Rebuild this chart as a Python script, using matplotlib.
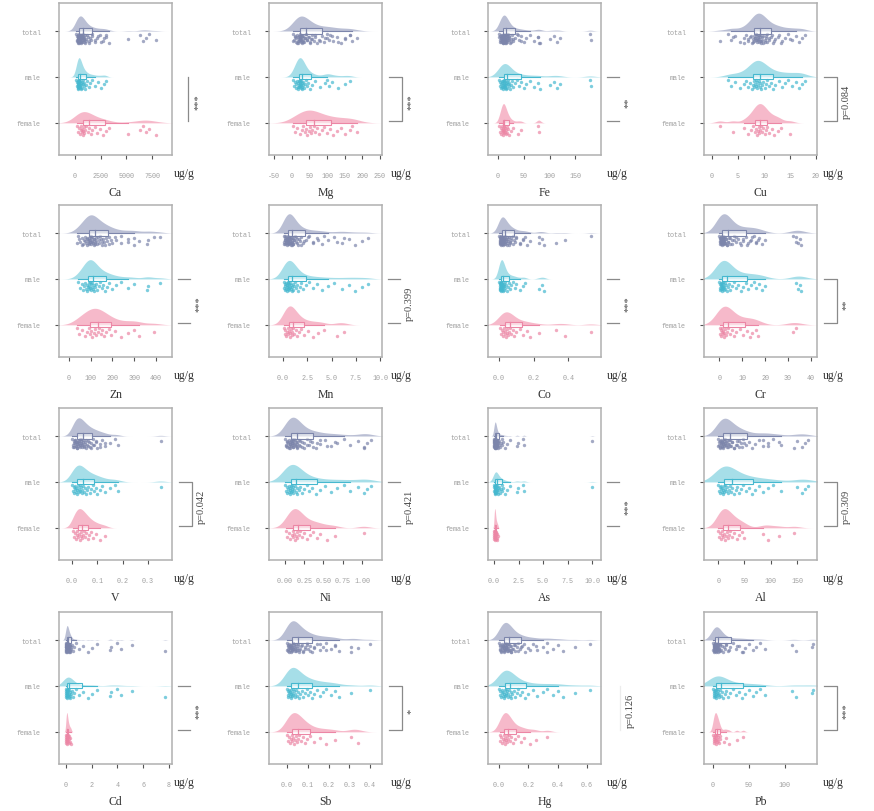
import numpy as np
import matplotlib.pyplot as plt

plt.rcParams['font.family'] = ['Liberation Serif', 'DejaVu Serif']

elements = ['Ca', 'Mg', 'Fe', 'Cu', 'Zn', 'Mn', 'Co', 'Cr',
            'V', 'Ni', 'As', 'Al', 'Cd', 'Sb', 'Hg', 'Pb']
groups = ['total', 'male', 'female']

ca_male = [120, 180, 220, 250, 270, 290, 300, 310, 320, 330, 340, 360, 380, 390, 400, 420, 440, 450,
           480, 510, 540, 580, 620, 660, 700, 750, 800, 860, 920, 1000, 1100, 1200, 1350, 1500,
           1700, 1900, 2200, 2500, 2800, 3000]
ca_female = [150, 250, 350, 450, 550, 620, 680, 720, 760, 800, 850, 900, 980, 1100, 1250, 1400,
             1550, 1700, 1900, 2100, 2400, 2700, 3000, 3300, 5200, 6300, 6600, 6900, 7200, 7900]
mg_male = [3, 6, 9, 11, 13, 15, 16, 17, 18, 19, 20, 21, 22, 22, 23, 24, 25, 26, 27, 28, 29, 30,
           31, 33, 35, 37, 40, 43, 47, 52, 58, 65, 80, 95, 100, 105, 115, 130, 150, 165]
mg_female = [2, 8, 15, 22, 28, 32, 36, 40, 44, 48, 52, 55, 58, 62, 66, 72, 78, 85, 92, 100, 108,
             118, 128, 140, 152, 165, 172, 185]
fe_male = [1, 3, 4, 5, 6, 7, 8, 8, 9, 9, 10, 10, 11, 11, 12, 12, 13, 13, 14, 14, 15, 15, 16, 17,
           18, 19, 20, 21, 22, 24, 26, 28, 30, 33, 36, 40, 45, 50, 55, 62, 70, 78, 82, 100, 108,
           115, 120, 178, 180]
fe_female = [2, 4, 5, 6, 7, 8, 9, 9, 10, 10, 11, 11, 12, 12, 13, 14, 15, 16, 17, 18, 20, 22, 25,
             30, 38, 45, 78, 80]
cu_male = [3.0, 3.6, 4.5, 5.4, 6.1, 6.6, 7.0, 7.3, 7.6, 7.8, 8.0, 8.1, 8.3, 8.4, 8.5, 8.6, 8.7,
           8.9, 9.0, 9.2, 9.3, 9.5, 9.7, 9.9, 10.1, 10.3, 10.6, 10.9, 11.3, 11.7, 12.2, 12.8,
           13.4, 14.0, 14.7, 15.4, 16.2, 16.8, 17.3, 17.8]
cu_female = [1.5, 4.0, 6.2, 7.0, 7.5, 7.9, 8.2, 8.4, 8.6, 8.8, 9.0, 9.1, 9.3, 9.5, 9.7, 9.9,
             10.1, 10.3, 10.6, 11.0, 11.5, 12.0, 12.6, 13.2, 15.0]
zn_male = [40, 50, 58, 64, 70, 74, 78, 82, 85, 88, 90, 92, 94, 96, 98, 100, 102, 104, 107, 110,
           113, 116, 120, 125, 130, 136, 142, 150, 158, 166, 175, 185, 200, 215, 240, 270, 300,
           360, 365, 420]
zn_female = [35, 48, 60, 72, 82, 90, 96, 102, 108, 114, 120, 126, 132, 138, 145, 152, 160, 170,
             182, 195, 210, 240, 270, 300, 320, 390]
mn_male = [0.05, 0.1, 0.15, 0.2, 0.25, 0.3, 0.33, 0.36, 0.4, 0.43, 0.46, 0.5, 0.53, 0.56, 0.6,
           0.63, 0.66, 0.7, 0.74, 0.78, 0.82, 0.87, 0.92, 0.98, 1.05, 1.12, 1.2, 1.3, 1.4, 1.55,
           1.7, 1.9, 2.1, 2.4, 2.7, 3.1, 3.5, 4.0, 4.6, 5.3, 6.1, 6.8, 7.4, 8.1, 8.8]
mn_female = [0.05, 0.15, 0.25, 0.35, 0.42, 0.5, 0.56, 0.62, 0.68, 0.74, 0.8, 0.87, 0.95, 1.05,
             1.15, 1.3, 1.45, 1.65, 1.9, 2.2, 2.6, 3.1, 3.6, 4.2, 5.6, 6.3]
co_male = [0.002, 0.003, 0.004, 0.005, 0.006, 0.007, 0.008, 0.009, 0.010, 0.010, 0.011, 0.012,
           0.012, 0.013, 0.014, 0.015, 0.016, 0.017, 0.018, 0.019, 0.020, 0.022, 0.024, 0.026,
           0.028, 0.030, 0.033, 0.036, 0.040, 0.045, 0.050, 0.056, 0.064, 0.072, 0.080, 0.090,
           0.10, 0.12, 0.14, 0.15, 0.23, 0.25, 0.26]
co_female = [0.005, 0.010, 0.015, 0.020, 0.024, 0.028, 0.032, 0.036, 0.040, 0.044, 0.048, 0.053,
             0.058, 0.064, 0.070, 0.078, 0.088, 0.10, 0.12, 0.14, 0.16, 0.18, 0.23, 0.33, 0.38,
             0.53]
cr_male = [0.1, 0.2, 0.4, 0.5, 0.6, 0.8, 0.9, 1.0, 1.1, 1.2, 1.3, 1.4, 1.5, 1.6, 1.7, 1.8, 2.0,
           2.2, 2.4, 2.7, 3.0, 3.4, 3.8, 4.3, 4.9, 5.6, 6.4, 7.3, 8.3, 9.4, 10.5, 11.6, 12.7,
           13.8, 15.0, 16.2, 17.5, 18.8, 19.8, 33.5, 34.2, 35.0, 35.8]
cr_female = [0.2, 0.5, 0.8, 1.0, 1.2, 1.4, 1.6, 1.8, 2.0, 2.3, 2.6, 3.0, 3.5, 4.0, 4.8, 5.6, 6.5,
             7.5, 9.0, 10.5, 12.0, 13.5, 14.5, 16.0, 17.0, 32.0, 33.5]
v_male = [0.002, 0.005, 0.008, 0.010, 0.012, 0.014, 0.016, 0.018, 0.020, 0.022, 0.024, 0.026,
          0.028, 0.030, 0.032, 0.035, 0.038, 0.041, 0.044, 0.048, 0.052, 0.056, 0.060, 0.065,
          0.070, 0.076, 0.082, 0.088, 0.095, 0.10, 0.11, 0.12, 0.13, 0.15, 0.17, 0.18, 0.35]
v_female = [0.003, 0.008, 0.012, 0.016, 0.019, 0.022, 0.025, 0.028, 0.031, 0.034, 0.037, 0.040,
            0.044, 0.048, 0.052, 0.057, 0.062, 0.068, 0.075, 0.085, 0.095, 0.11, 0.13]
ni_male = [0.005, 0.01, 0.02, 0.03, 0.04, 0.05, 0.055, 0.06, 0.065, 0.07, 0.075, 0.08, 0.085,
           0.09, 0.095, 0.10, 0.11, 0.12, 0.13, 0.14, 0.15, 0.16, 0.18, 0.20, 0.22, 0.25, 0.28,
           0.31, 0.35, 0.40, 0.45, 0.52, 0.60, 0.68, 0.76, 0.84, 0.95, 1.03, 1.07, 1.12]
ni_female = [0.01, 0.03, 0.05, 0.07, 0.09, 0.10, 0.11, 0.12, 0.13, 0.14, 0.15, 0.16, 0.18, 0.20,
             0.22, 0.25, 0.28, 0.32, 0.36, 0.42, 0.45, 0.55, 0.65, 1.02]
as_male = [0.01, 0.03, 0.05, 0.07, 0.08, 0.09, 0.10, 0.11, 0.12, 0.13, 0.14, 0.15, 0.17, 0.19,
           0.21, 0.23, 0.25, 0.28, 0.31, 0.35, 0.40, 0.45, 0.50, 0.56, 0.63, 0.70, 0.78, 0.86,
           0.95, 1.1, 1.3, 1.6, 2.3, 2.4, 3.0, 3.1, 10.0]
as_female = [0.01, 0.02, 0.03, 0.04, 0.05, 0.06, 0.07, 0.08, 0.09, 0.10, 0.11, 0.12, 0.13, 0.14,
             0.15, 0.17, 0.19, 0.21, 0.24, 0.27, 0.30, 0.35, 0.40]
al_male = [0.5, 1.5, 2.5, 3.5, 4.5, 5.5, 6.5, 7.5, 8.5, 9.5, 10.5, 11.5, 12.5, 13.5, 15, 16.5,
           18, 20, 22, 24, 27, 30, 33, 36, 40, 44, 48, 53, 58, 64, 70, 78, 86, 95, 105, 120, 150,
           160, 165, 170]
al_female = [0.5, 2, 3.5, 5, 6.5, 8, 9.5, 11, 12.5, 14, 16, 18, 20, 23, 26, 30, 35, 40, 46, 50,
             85, 95, 115, 145]
cd_male = [0.005, 0.01, 0.02, 0.03, 0.04, 0.05, 0.06, 0.07, 0.08, 0.09, 0.10, 0.11, 0.12, 0.14,
           0.16, 0.18, 0.20, 0.22, 0.25, 0.28, 0.31, 0.35, 0.40, 0.45, 0.55, 0.65, 0.8, 1.0, 1.3,
           1.7, 2.0, 2.4, 3.4, 3.5, 4.0, 4.3, 5.1, 7.7]
cd_female = [0.005, 0.01, 0.02, 0.03, 0.04, 0.05, 0.06, 0.07, 0.08, 0.09, 0.10, 0.11, 0.12, 0.14,
             0.16, 0.18, 0.20, 0.23, 0.26, 0.30, 0.35, 0.40]
sb_male = [0.001, 0.003, 0.005, 0.007, 0.009, 0.011, 0.013, 0.015, 0.017, 0.019, 0.021, 0.023,
           0.025, 0.027, 0.030, 0.033, 0.036, 0.040, 0.044, 0.048, 0.053, 0.058, 0.064, 0.070,
           0.077, 0.085, 0.094, 0.10, 0.11, 0.12, 0.13, 0.145, 0.16, 0.175, 0.19, 0.21, 0.23,
           0.25, 0.31, 0.40]
sb_female = [0.002, 0.006, 0.010, 0.014, 0.018, 0.022, 0.026, 0.030, 0.034, 0.038, 0.043, 0.048,
             0.054, 0.060, 0.068, 0.076, 0.085, 0.095, 0.11, 0.13, 0.16, 0.19, 0.23, 0.31, 0.34]
hg_male = [0.002, 0.006, 0.010, 0.014, 0.018, 0.022, 0.026, 0.030, 0.033, 0.036, 0.039, 0.042,
           0.045, 0.048, 0.051, 0.055, 0.059, 0.063, 0.068, 0.073, 0.079, 0.085, 0.092, 0.10,
           0.11, 0.12, 0.13, 0.145, 0.16, 0.18, 0.20, 0.23, 0.26, 0.30, 0.33, 0.37, 0.40, 0.44,
           0.52, 0.62]
hg_female = [0.004, 0.010, 0.016, 0.022, 0.027, 0.032, 0.036, 0.040, 0.044, 0.048, 0.053, 0.058,
             0.064, 0.070, 0.077, 0.085, 0.095, 0.11, 0.13, 0.15, 0.17, 0.21, 0.25, 0.33]
pb_male = [0.3, 0.6, 1.0, 1.4, 1.8, 2.2, 2.6, 3.0, 3.4, 3.8, 4.2, 4.7, 5.2, 5.8, 6.4, 7.0, 7.8,
           8.6, 9.5, 10.5, 12, 14, 16, 18, 21, 24, 28, 32, 36, 40, 45, 50, 55, 60, 66, 72, 110,
           115, 138, 139]
pb_female = [0.3, 0.7, 1.1, 1.5, 1.9, 2.3, 2.7, 3.1, 3.5, 3.9, 4.3, 4.8, 5.3, 5.9, 6.5, 7.2, 8.0,
             9.0, 10.0, 15, 18, 22, 33, 42]

male_data = [ca_male, mg_male, fe_male, cu_male, zn_male, mn_male, co_male, cr_male,
             v_male, ni_male, as_male, al_male, cd_male, sb_male, hg_male, pb_male]
female_data = [ca_female, mg_female, fe_female, cu_female, zn_female, mn_female, co_female,
               cr_female, v_female, ni_female, as_female, al_female, cd_female, sb_female,
               hg_female, pb_female]

tick_values = [[0, 2500, 5000, 7500], [-50, 0, 50, 100, 150, 200, 250], [0, 50, 100, 150],
               [0, 5, 10, 15, 20], [0, 100, 200, 300, 400], [0, 2.5, 5, 7.5, 10],
               [0, 0.2, 0.4], [0, 10, 20, 30, 40], [0, 0.1, 0.2, 0.3],
               [0, 0.25, 0.5, 0.75, 1.0], [0, 2.5, 5, 7.5, 10], [0, 50, 100, 150],
               [0, 2, 4, 6, 8], [0, 0.1, 0.2, 0.3, 0.4], [0, 0.2, 0.4, 0.6], [0, 50, 100]]
tick_labels = [['0', '2500', '5000', '7500'], ['-50', '0', '50', '100', '150', '200', '250'],
               ['0', '50', '100', '150'], ['0', '5', '10', '15', '20'],
               ['0', '100', '200', '300', '400'], ['0.0', '2.5', '5.0', '7.5', '10.0'],
               ['0.0', '0.2', '0.4'], ['0', '10', '20', '30', '40'],
               ['0.0', '0.1', '0.2', '0.3'], ['0.00', '0.25', '0.50', '0.75', '1.00'],
               ['0.0', '2.5', '5.0', '7.5', '10.0'], ['0', '50', '100', '150'],
               ['0', '2', '4', '6', '8'], ['0.0', '0.1', '0.2', '0.3', '0.4'],
               ['0.0', '0.2', '0.4', '0.6'], ['0', '50', '100']]
sig_labels = ['***', '***', '**', 'p=0.084', '***', 'p=0.399', '***', '**',
              'p=0.042', 'p=0.421', '***', 'p=0.309', '***', '*', 'p=0.126', '***']

# styling / layout
x_limits = [(-1560, 9450), (-65, 256), (-19.5, 200), (-1.55, 20.2), (-46, 474), (-1.45, 10.2),
            (-0.064, 0.59), (-6.6, 42.6), (-0.051, 0.395), (-0.208, 1.26), (-0.61, 10.9),
            (-27, 188), (-0.54, 8.24), (-0.087, 0.458), (-0.075, 0.696), (-12.7, 145)]
sig_kind = ['line', 'bracket', 'ticks', 'bracket', 'ticks', 'ticks', 'ticks', 'bracket',
            'bracket', 'ticks', 'ticks', 'bracket', 'ticks', 'bracket', 'faint', 'bracket']
fill_colors = {'total': '#b3b8d0', 'male': '#9ddbe6', 'female': '#f6b2c5'}
dot_colors = {'total': '#7c85ab', 'male': '#45b8cf', 'female': '#ec86a5'}
tick_font = ['Liberation Mono', 'DejaVu Sans Mono']

col_left = [59, 269, 488, 704]
unit_x = [1.02, 1.08, 1.05, 1.05]
row_top = [4, 206, 409, 613]
W, H = 874, 812
aw, ah = 113, 152


def kde(vals, grid):
    vals = np.asarray(vals, float)
    n = len(vals)
    q75, q25 = np.percentile(vals, [75, 25])
    spread = min(np.std(vals, ddof=1), (q75 - q25) / 1.34)
    if spread <= 0:
        spread = np.std(vals, ddof=1)
    bw = 0.9 * spread * n ** -0.2
    z = (grid[:, None] - vals[None, :]) / bw
    return np.exp(-0.5 * z ** 2).sum(axis=1) / (n * bw * np.sqrt(2 * np.pi)), bw


fig = plt.figure(figsize=(W / 100, H / 100), dpi=100)

for k, el in enumerate(elements):
    r, c = divmod(k, 4)
    ax = fig.add_axes([col_left[c] / W, 1 - (row_top[r] + ah) / H, aw / W, ah / H])
    data = {'male': np.array(male_data[k], float), 'female': np.array(female_data[k], float)}
    data['total'] = np.concatenate([data['male'], data['female']])
    lo, hi = x_limits[k]

    dens = {}
    for g in groups:
        v = data[g]
        _, bw = kde(v, np.array([0.0]))
        grid = np.linspace(v.min() - 3 * bw, v.max() + 3 * bw, 500)
        d, _ = kde(v, grid)
        dens[g] = (grid, d)
    top = max(d.max() for _, d in dens.values())

    for i, g in enumerate(groups):
        pos = i + 1
        v = data[g]
        grid, d = dens[g]
        # softened area scaling: broad groups come out lower, as in the reference
        height = 0.42 * (d.max() / top) ** 0.45
        ax.fill_between(grid, pos - d / d.max() * height, pos, color=fill_colors[g], lw=0,
                        alpha=0.9)

        # jittered points below the line
        jit = 0.06 + 0.21 * ((np.arange(len(v)) * 0.6180339887) % 1)
        ax.scatter(v, pos + jit, s=6, color=dot_colors[g], alpha=0.7, lw=0, zorder=3)

        # boxplot
        q1, med, q3 = np.percentile(v, [25, 50, 75])
        iqr = q3 - q1
        wlo = v[v >= q1 - 1.5 * iqr].min()
        whi = v[v <= q3 + 1.5 * iqr].max()
        bh = 0.11
        ax.plot([wlo, q1], [pos, pos], color=dot_colors[g], lw=0.8, zorder=4)
        ax.plot([q3, whi], [pos, pos], color=dot_colors[g], lw=0.8, zorder=4)
        ax.add_patch(plt.Rectangle((q1, pos - bh / 2), q3 - q1, bh, facecolor='white', alpha=0.5,
                                   edgecolor='none', zorder=4))
        ax.add_patch(plt.Rectangle((q1, pos - bh / 2), q3 - q1, bh, facecolor='none',
                                   edgecolor=dot_colors[g], lw=0.8, zorder=5))
        ax.plot([med, med], [pos - bh / 2, pos + bh / 2], color=dot_colors[g], lw=0.9, zorder=5)

    ax.set_xlim(lo, hi)
    ax.set_ylim(3.70, 0.39)
    ax.set_xticks(tick_values[k])
    ax.set_xticklabels(tick_labels[k], family=tick_font)
    ax.set_yticks([1, 2, 3])
    ax.set_yticklabels(groups, family=tick_font)
    ax.tick_params(axis='both', labelsize=4.9, labelcolor='#a0a0a0', color='#555555',
                   length=3, width=0.8)
    ax.tick_params(axis='x', pad=9)
    ax.tick_params(axis='y', pad=10)
    for sp in ax.spines.values():
        sp.set_color('#b0b0b0')
        sp.set_linewidth(1.1)

    ax.text(unit_x[c], -18 / ah, 'ug/g', transform=ax.transAxes, ha='left', va='center',
            fontsize=8.5, color='#333333')
    ax.text(0.5, -37 / ah, el, transform=ax.transAxes, ha='center', va='center',
            fontsize=8.5, color='#333333')

    # significance marks
    tr = ax.get_yaxis_transform()
    y1, y2 = 2.0, 2.96
    kind = sig_kind[k]
    lc = '#8a8a8a'
    if kind == 'line':
        ax.plot([1.14, 1.14], [y1, y2], color=lc, lw=0.9, transform=tr, clip_on=False)
        tx = 1.23
    elif kind == 'bracket':
        ax.plot([1.06, 1.18, 1.18, 1.06], [y1, y1, y2, y2], color=lc, lw=0.9, transform=tr,
                clip_on=False)
        tx = 1.26
    elif kind == 'ticks':
        ax.plot([1.05, 1.16], [y1, y1], color=lc, lw=0.9, transform=tr, clip_on=False)
        ax.plot([1.05, 1.16], [y2, y2], color=lc, lw=0.9, transform=tr, clip_on=False)
        tx = 1.24
    else:
        ax.plot([1.17, 1.17], [y1, y2], color='#ececec', lw=0.9, transform=tr, clip_on=False)
        tx = 1.26
    ax.text(tx, (y1 + y2) / 2 + 0.05, sig_labels[k], transform=tr, rotation=90,
            ha='center', va='center', fontsize=7.5, color='#444444')

fig.savefig('out.png', dpi=100)
